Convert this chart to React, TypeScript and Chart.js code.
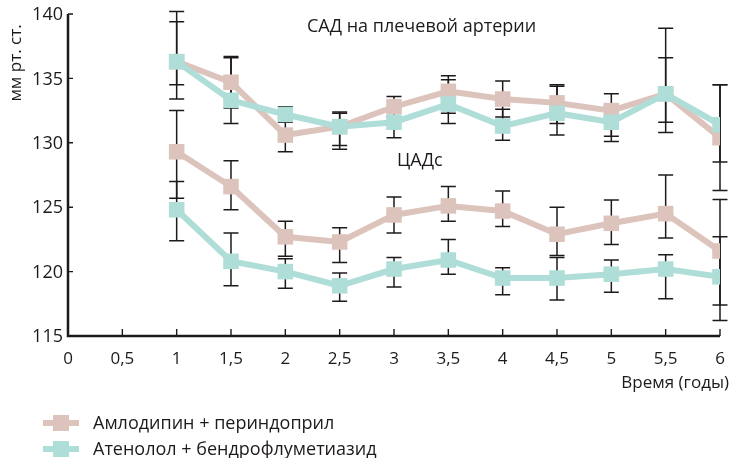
import React, { useEffect, useRef } from "react";
import { Chart, registerables } from "chart.js";

Chart.register(...registerables);

const years = [1, 1.5, 2, 2.5, 3, 3.5, 4, 4.5, 5, 5.5, 6];

const amlBrachial = [136.3, 134.7, 130.6, 131.25, 132.8, 134.0, 133.4, 133.1, 132.5, 133.8, 130.4];
const atnBrachial = [136.3, 133.3, 132.2, 131.25, 131.6, 133.0, 131.3, 132.3, 131.6, 133.8, 131.4];
const amlBrachialHi = [140.2, 136.7, 131.9, 132.4, 133.6, 135.2, 134.8, 134.5, 133.8, 138.9, 134.5];
const amlBrachialLo = [133.4, 132.7, 129.3, 129.8, 132.0, 132.3, 132.0, 131.5, 130.5, 131.6, 126.3];
const atnBrachialHi = [139.4, 136.6, 132.8, 132.3, 132.7, 134.9, 132.6, 134.4, 132.9, 136.6, 134.5];
const atnBrachialLo = [134.5, 131.5, 131.6, 129.5, 130.4, 131.5, 130.2, 130.6, 130.1, 130.8, 128.5];

const amlCentral = [129.3, 126.6, 122.7, 122.3, 124.4, 125.1, 124.7, 122.9, 123.75, 124.5, 121.6];
const atnCentral = [124.8, 120.8, 120.0, 118.9, 120.2, 120.9, 119.5, 119.5, 119.8, 120.2, 119.6];
const amlCentralHi = [132.5, 128.6, 123.9, 123.4, 125.8, 126.6, 126.25, 125.0, 125.55, 127.5, 125.6];
const amlCentralLo = [125.7, 124.8, 121.2, 120.7, 123.0, 123.9, 123.5, 121.25, 122.1, 122.6, 117.4];
const atnCentralHi = [127.0, 123.0, 121.0, 119.9, 121.1, 122.5, 120.3, 121.1, 120.9, 121.3, 122.7];
const atnCentralLo = [122.4, 118.9, 118.7, 117.7, 118.8, 119.8, 118.2, 117.8, 118.4, 117.9, 116.2];

const xTickValues = [0, 0.5, 1, 1.5, 2, 2.5, 3, 3.5, 4, 4.5, 5, 5.5, 6];
const yTickValues = [115, 120, 125, 130, 135, 140];

const seriesNames = ["Амлодипин + периндоприл", "Атенолол + бендрофлуметиазид"];
const yTitle = "мм рт. ст.";
const xTitle = "Время (годы)";
const labelBrachial = "САД на плечевой артерии";
const labelCentral = "ЦАДс";

const PINK = "#dcc4bd";
const TEAL = "#afddd8";
const INK = "#1e1a1b";
const FONT = "'Open Sans', sans-serif";

const pts = (vals: number[]) => vals.map((v, i) => ({ x: years[i], y: v }));

export default function App() {
  const ref = useRef<HTMLCanvasElement>(null);

  useEffect(() => {
    if (!ref.current) return;

    const errorBars = [
      { hi: amlBrachialHi, lo: amlBrachialLo },
      { hi: atnBrachialHi, lo: atnBrachialLo },
      { hi: amlCentralHi, lo: amlCentralLo },
      { hi: atnCentralHi, lo: atnCentralLo },
    ];

    const decor = {
      id: "decor",
      beforeDatasetsDraw(chart: any) {
        const ctx = chart.ctx;
        const xs = chart.scales.x;
        const ys = chart.scales.y;
        ctx.save();
        ctx.strokeStyle = INK;
        ctx.lineWidth = 1.5;
        errorBars.forEach((eb) => {
          years.forEach((yr, i) => {
            const px = xs.getPixelForValue(yr);
            const top = ys.getPixelForValue(eb.hi[i]);
            const bot = ys.getPixelForValue(eb.lo[i]);
            ctx.beginPath();
            ctx.moveTo(px, top);
            ctx.lineTo(px, bot);
            ctx.moveTo(px - 7.5, top);
            ctx.lineTo(px + 7.5, top);
            ctx.moveTo(px - 7.5, bot);
            ctx.lineTo(px + 7.5, bot);
            ctx.stroke();
          });
        });
        ctx.restore();
      },
      afterDraw(chart: any) {
        const ctx = chart.ctx;
        const xs = chart.scales.x;
        const ys = chart.scales.y;
        const left = xs.getPixelForValue(0);
        const right = xs.getPixelForValue(6);
        const top = ys.getPixelForValue(140);
        const bottom = ys.getPixelForValue(115);
        ctx.save();
        ctx.strokeStyle = INK;
        ctx.lineWidth = 2.5;
        ctx.beginPath();
        ctx.moveTo(left, top);
        ctx.lineTo(left, bottom);
        ctx.lineTo(right, bottom);
        ctx.stroke();
        ctx.lineWidth = 1.4;
        ctx.beginPath();
        yTickValues.forEach((v) => {
          const py = ys.getPixelForValue(v);
          ctx.moveTo(left, py);
          ctx.lineTo(left + 5, py);
        });
        xTickValues.forEach((v) => {
          const px = xs.getPixelForValue(v);
          ctx.moveTo(px, bottom);
          ctx.lineTo(px, bottom - 7);
        });
        ctx.stroke();

        ctx.fillStyle = INK;
        ctx.font = `18px ${FONT}`;
        ctx.textBaseline = "middle";
        ctx.textAlign = "right";
        yTickValues.forEach((v) => {
          ctx.fillText(String(v), left - 5, ys.getPixelForValue(v) + 1);
        });
        ctx.textAlign = "center";
        ctx.font = `17px ${FONT}`;
        xTickValues.forEach((v) => {
          ctx.fillText(String(v).replace(".", ","), xs.getPixelForValue(v), bottom + 23);
        });
        ctx.textAlign = "right";
        ctx.fillText(xTitle, 729, bottom + 47);

        ctx.textAlign = "left";
        ctx.font = `18px ${FONT}`;
        ctx.fillText(labelBrachial, 307, 27);
        ctx.fillText(labelCentral, 397, 161);

        ctx.save();
        ctx.translate(16, 63);
        ctx.rotate(-Math.PI / 2);
        ctx.textAlign = "center";
        ctx.font = `17px ${FONT}`;
        ctx.fillText(yTitle, 0, 0);
        ctx.restore();

        const legendY = [423, 449];
        [PINK, TEAL].forEach((c, i) => {
          const y = legendY[i];
          ctx.strokeStyle = c;
          ctx.lineWidth = 6;
          ctx.beginPath();
          ctx.moveTo(43, y);
          ctx.lineTo(79, y);
          ctx.stroke();
          ctx.fillStyle = c;
          ctx.fillRect(53, y - 8, 16, 16);
          ctx.fillStyle = INK;
          ctx.textAlign = "left";
          ctx.font = `18px ${FONT}`;
          ctx.fillText(seriesNames[i], 93, y + 1);
        });
        ctx.restore();
      },
    };

    const mk = (label: string, vals: number[], color: string) => ({
      label,
      data: pts(vals),
      borderColor: color,
      backgroundColor: color,
      borderWidth: 6,
      pointStyle: "rect",
      pointRadius: 11,
      pointBorderWidth: 0,
      pointBackgroundColor: color,
      tension: 0,
      fill: false,
    });

    const chart = new Chart(ref.current, {
      type: "line",
      data: {
        datasets: [
          mk(seriesNames[1] + " САД", atnBrachial, TEAL),
          mk(seriesNames[0] + " САД", amlBrachial, PINK),
          mk(seriesNames[1] + " ЦАДс", atnCentral, TEAL),
          mk(seriesNames[0] + " ЦАДс", amlCentral, PINK),
        ] as any,
      },
      options: {
        animation: false,
        responsive: false,
        events: [],
        layout: { padding: { left: 68, right: 13, top: 14, bottom: 122 } },
        plugins: { legend: { display: false }, tooltip: { enabled: false } },
        scales: {
          x: { type: "linear", min: 0, max: 6, display: false },
          y: { type: "linear", min: 115, max: 140, display: false },
        },
      } as any,
      plugins: [decor],
    });
    return () => chart.destroy();
  }, []);

  return (
    <div style={{ position: "absolute", left: 0, top: 0, width: 733, height: 458, background: "#fff" }}>
      <canvas ref={ref} width={733} height={458} style={{ width: 733, height: 458 }} />
    </div>
  );
}
